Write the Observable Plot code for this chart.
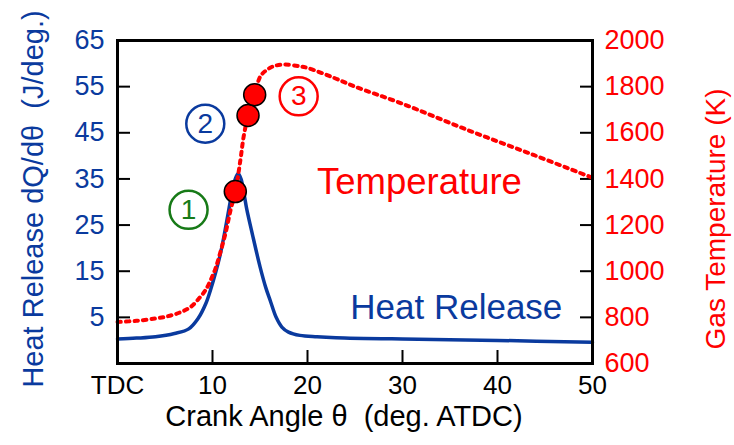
<!DOCTYPE html>
<html>
<head>
<meta charset="utf-8">
<script src="https://cdn.jsdelivr.net/npm/d3@7"></script>
<script src="https://cdn.jsdelivr.net/npm/@observablehq/plot@0.6"></script>
<style>
  html, body { margin: 0; padding: 0; background: #fff; }
</style>
</head>
<body>
<div id="chart"></div>
<script>
// ---- data ----
const hrAngle = [0, 2, 4, 6, 7.5, 8.5, 9.3, 9.8, 10.3, 10.8, 11.2, 11.6, 12.0, 12.4, 12.7, 13.0, 13.3, 13.6, 14.2, 15.0, 15.6, 16.1, 16.7, 17.3, 18.0, 19.2, 21, 23, 30, 40, 50];
const hrValue = [0.3, 0.5, 0.8, 1.5, 2.5, 4.8, 8, 11, 14.5, 18.5, 22.5, 27, 31.5, 35, 36.2, 35, 32, 28.5, 23, 16, 11.5, 8.5, 5, 2.9, 1.8, 1.1, 0.8, 0.6, 0.3, 0, -0.4];

const tAngle = [0, 2, 4, 5.2, 6.5, 7.7, 8.7, 9.3, 9.8, 10.3, 10.8, 11.4, 11.9, 12.4, 12.94, 13.28, 13.74, 14.1, 14.44, 15.04, 15.7, 16.4, 17.5, 19.2, 20, 22.8, 25, 29.8, 36.8, 43.8, 50];
const tValue = [780, 785, 795, 804, 820, 845, 888, 920, 961, 1010, 1078, 1170, 1265, 1345, 1483, 1584, 1675, 1725, 1765, 1845, 1872, 1888, 1896, 1888, 1881, 1838, 1800, 1729, 1613, 1504, 1405];

const markerAngle = [12.4, 13.74, 14.44];
const markerTemp = [1345, 1675, 1765];

const stageLabel = ["1", "2", "3"];
const stageAngle = [7.48, 9.24, 19.07];
const stageHR = [28.3, 46.96, 52.9];
const stageColor = ["#177a17", "#0a3a9e", "#ff0000"];

const xTicks = [0, 10, 20, 30, 40, 50];
const leftTicks = [5, 15, 25, 35, 45, 55, 65];
const rightTicks = [600, 800, 1000, 1200, 1400, 1600, 1800, 2000];

const xTitle = "Crank Angle \u03b8  (deg. ATDC)";
const leftTitle = "Heat Release dQ/d\u03b8  (J/deg.)";
const rightTitle = "Gas Temperature (K)";
const tempLabel = "Temperature";
const tempLabelAngle = 21.0, tempLabelHR = 34.3;
const hrLabel = "Heat Release";
const hrLabelAngle = 24.5, hrLabelHR = 7.0;

// ---- helpers ----
const BLUE = "#0a3a9e", RED = "#ff0000";
const leftDomain = [-5, 65], rightDomain = [600, 2000];
const k2l = k => leftDomain[0] + (k - rightDomain[0]) * (leftDomain[1] - leftDomain[0]) / (rightDomain[1] - rightDomain[0]);
const l2k = v => rightDomain[0] + (v - leftDomain[0]) * (rightDomain[1] - rightDomain[0]) / (leftDomain[1] - leftDomain[0]);

const hr = hrAngle.map((a, i) => ({a, v: hrValue[i]}));
const temp = tAngle.map((a, i) => ({a, v: k2l(tValue[i])}));
const markers = markerAngle.map((a, i) => ({a, v: k2l(markerTemp[i])}));
const stages = stageLabel.map((s, i) => ({s, a: stageAngle[i], v: stageHR[i], c: stageColor[i]}));

const FONT = "Liberation Sans, Arial, sans-serif";

const chart = Plot.plot({
  width: 734,
  height: 445,
  marginLeft: 117,
  marginRight: 142,
  marginTop: 40,
  marginBottom: 82,
  style: {fontFamily: FONT, background: "#fff", overflow: "visible"},
  x: {domain: [0, 50], axis: null},
  y: {domain: leftDomain, axis: null},
  marks: [
    // bottom axis
    Plot.axisX({ticks: xTicks, anchor: "bottom", tickSize: 13, insetBottom: 13, tickPadding: 12, strokeWidth: 2,
      tickFormat: d => d === 0 ? "TDC" : String(d), fontSize: 26, fill: "#000", label: null}),
    // left axis
    Plot.axisY({ticks: leftTicks, anchor: "left", tickSize: 13, insetLeft: 13, tickPadding: 13, strokeWidth: 2,
      fill: BLUE, fontSize: 27, label: null}),
    // right axis
    Plot.axisY({ticks: rightTicks.map(k2l), anchor: "right", tickSize: 13, insetRight: 13, tickPadding: 12, strokeWidth: 2,
      tickFormat: d => String(Math.round(l2k(d))), fill: RED, fontSize: 27, label: null}),
    // curves
    Plot.line(hr, {x: "a", y: "v", stroke: BLUE, strokeWidth: 3.5, curve: "catmull-rom"}),
    Plot.line(temp, {x: "a", y: "v", stroke: RED, strokeWidth: 4, strokeDasharray: "3.5,5", curve: "catmull-rom"}),
    Plot.frame({stroke: "#000", strokeWidth: 3}),
    // markers
    Plot.dot(markers, {x: "a", y: "v", r: 11, fill: RED, stroke: "#000", strokeWidth: 1.5}),
    // stage circles
    Plot.dot(stages, {x: "a", y: "v", r: 19, fill: "none", stroke: "c", strokeWidth: 2.5}),
    Plot.text(stages, {x: "a", y: "v", text: "s", fill: "c", fontSize: 28}),
    // series labels
    Plot.text([tempLabel], {x: () => tempLabelAngle, y: () => tempLabelHR, fill: RED, fontSize: 36.5, textAnchor: "start"}),
    Plot.text([hrLabel], {x: () => hrLabelAngle, y: () => hrLabelHR, fill: BLUE, fontSize: 35, textAnchor: "start"}),
    // titles
    Plot.text([xTitle], {frameAnchor: "bottom", textAnchor: "middle", dx: -11, dy: 62, fontSize: 29, fill: "#000"}),
    Plot.text([leftTitle], {frameAnchor: "left", textAnchor: "middle", rotate: -90, dx: -84, dy: -3, fontSize: 29, fill: BLUE}),
    Plot.text([rightTitle], {frameAnchor: "right", textAnchor: "middle", rotate: -90, dx: 124, dy: 17, fontSize: 28, fill: RED})
  ]
});
document.getElementById("chart").appendChild(chart);
</script>
</body>
</html>
